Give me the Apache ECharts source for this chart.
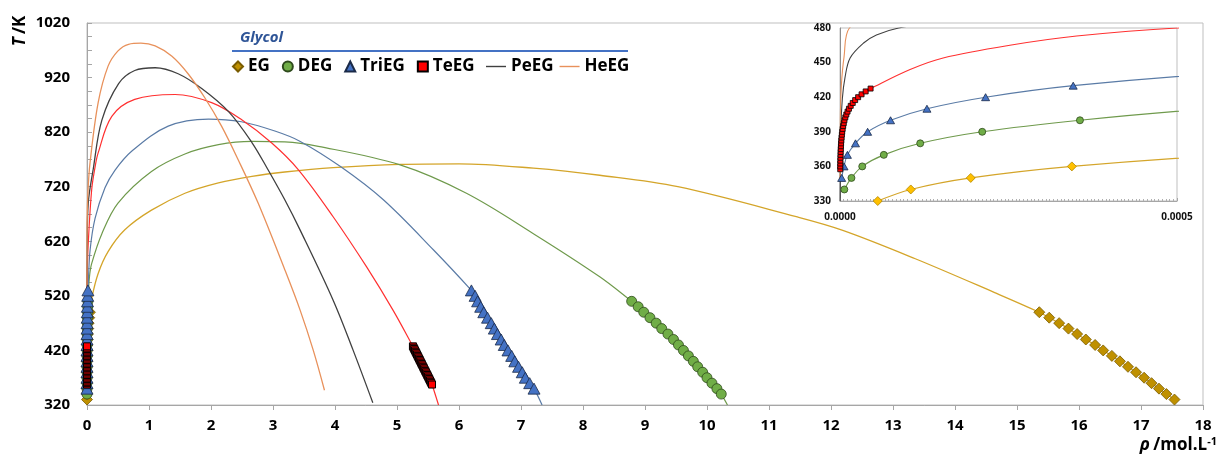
<!DOCTYPE html>
<html><head><meta charset="utf-8">
<script src="https://cdn.jsdelivr.net/npm/echarts@6/dist/echarts.min.js"></script>
<style>html,body{margin:0;padding:0;background:#fff}#c{width:1219px;height:454px}</style>
</head><body><div id="c"></div>
<script>
// ---------------- DATA ----------------
const seriesNames = ['EG','DEG','TriEG','TeEG','PeEG','HeEG'];
const xTicks = [0,1,2,3,4,5,6,7,8,9,10,11,12,13,14,15,16,17,18];
const yTicks = [320,420,520,620,720,820,920,1020];
const insetYTicks = [330,360,390,420,450,480];
const insetXTicks = [0,0.0005];

// simulation points [rho, T] — vapour side (ascending T) and liquid side (descending T)
const egVapor = [[0.000056,330],[0.000105,340],[0.000194,350],[0.000344,360],[0.00058,370],[0.00095,380],[0.0015,390],[0.0024,400],[0.0036,410],[0.0053,420],[0.0076,430],[0.0107,440],[0.0148,450],[0.020,460],[0.027,470],[0.036,480],[0.047,490]];
const egLiquid = [[15.36,490],[15.52,480],[15.68,470],[15.83,460],[15.97,450],[16.11,440],[16.26,430],[16.39,420],[16.53,410],[16.66,400],[16.79,390],[16.92,380],[17.05,370],[17.17,360],[17.29,350],[17.41,340],[17.54,330]];

const degVapor = [[0.0000064,340],[0.000017,350],[0.000033,360],[0.000065,370],[0.000119,380],[0.000211,390],[0.000356,400],[0.00055,410],[0.00083,420],[0.0012,430],[0.00175,440],[0.0025,450],[0.0035,460],[0.0048,470],[0.0065,480],[0.0087,490],[0.0115,500],[0.015,510]];
const degLiquid = [[8.785,510],[8.89,500],[8.98,490],[9.08,480],[9.18,470],[9.27,460],[9.37,450],[9.46,440],[9.54,430],[9.62,420],[9.70,410],[9.78,400],[9.85,390],[9.93,380],[10.00,370],[10.08,360],[10.16,350],[10.23,340]];

const triVapor = [[0.0000025,350],[0.000006,360],[0.000011,370],[0.000023,380],[0.000041,390],[0.000075,400],[0.000129,410],[0.000216,420],[0.000346,430],[0.00055,440],[0.00086,450],[0.0013,460],[0.00195,470],[0.00285,480],[0.0041,490],[0.0058,500],[0.008,510],[0.011,520],[0.015,530]];
const triLiquid = [[6.20,530],[6.26,520],[6.30,510],[6.35,500],[6.40,490],[6.46,480],[6.52,470],[6.57,460],[6.62,450],[6.68,440],[6.73,430],[6.79,420],[6.85,410],[6.90,400],[6.96,390],[7.02,380],[7.07,370],[7.14,360],[7.21,350]];

const teVapor = [[0.00000034,357.5],[0.0000004,360],[0.00000048,362.5],[0.00000057,365],[0.00000068,367.5],[0.00000081,370],[0.00000097,372.5],[0.00000115,375],[0.00000137,377.5],[0.00000163,380],[0.00000194,382.5],[0.00000232,385],[0.00000276,387.5],[0.00000329,390],[0.0000039,392.5],[0.0000047,395],[0.0000056,397.5],[0.0000066,400],[0.0000079,402.5],[0.0000094,405],[0.0000112,407.5],[0.0000133,410],[0.0000159,412.5],[0.0000189,415],[0.0000225,417.5],[0.0000269,420],[0.000032,422.5],[0.0000381,425],[0.0000454,427.5]];
const teLiquid = [[5.257,427.5],[5.268,425],[5.279,422.5],[5.290,420],[5.301,417.5],[5.312,415],[5.323,412.5],[5.334,410],[5.345,407.5],[5.356,405],[5.367,402.5],[5.378,400],[5.389,397.5],[5.400,395],[5.411,392.5],[5.422,390],[5.433,387.5],[5.444,385],[5.455,382.5],[5.466,380],[5.477,377.5],[5.488,375],[5.499,372.5],[5.510,370],[5.521,367.5],[5.532,365],[5.543,362.5],[5.554,360],[5.565,357.5]];

// fitted coexistence curves (between vapour and liquid points)
const egBranch = [[0.075,515],[0.18,561],[0.34,601],[0.61,641],[1.04,677],[1.58,708],[2.12,727],[2.66,739],[3.19,747],[3.97,755],[5.05,761],[6.0,762],[7.2,754],[8.27,741],[9.53,720],[11.44,665],[12.19,640],[13.36,588],[14.64,526]];
const degBranch = [[0.04,555],[0.075,579],[0.24,634],[0.50,690],[1.04,748],[1.58,780],[2.12,797],[2.66,803],[3.19,802],[3.73,794],[5.05,760],[6.12,708],[7.2,634],[8.27,555]];
const degEnd = [[10.33,320]];
const triBranch = [[0.02,542],[0.05,604],[0.13,662],[0.29,718],[0.45,750],[0.72,785],[1.31,831],[1.96,844],[2.49,839],[3.03,822],[3.44,803],[4.1,756],[4.78,696],[5.59,604]];
const triEnd = [[7.34,320]];
const teBranch = [[0.000104,444],[0.000153,454],[0.000252,465],[0.000351,473],[0.0005,480],[0.002,525],[0.006,570],[0.02,616],[0.075,714],[0.13,756],[0.18,782],[0.40,849],[0.77,880],[1.42,889],[2.01,874],[2.49,843],[2.98,800],[3.41,751],[3.97,665],[4.51,573],[4.94,493]];
const teEnd = [[5.67,320]];
const peCurve = [[0.0000002,330],[0.0000012,390],[0.0000035,419],[0.0000074,437],[0.000015,454],[0.000035,467],[0.000054,474],[0.000087,480],[0.0006,540],[0.004,620],[0.02,690],[0.10,752],[0.24,842],[0.51,909],[0.77,933],[1.10,938],[1.47,927],[1.85,900],[2.28,858],[2.66,801],[2.92,751],[3.19,696],[3.44,640],[3.97,512],[4.29,421],[4.61,324]];
const heCurve = [[0.0000002,350],[0.0000005,400],[0.000002,430],[0.000006,455],[0.000014,480],[0.0002,560],[0.002,650],[0.015,710],[0.05,765],[0.18,874],[0.34,941],[0.50,969],[0.67,981],[0.87,983],[1.10,978],[1.37,959],[1.63,927],[1.90,883],[2.17,831],[2.44,769],[2.76,690],[3.19,568],[3.44,493],[3.65,420],[3.83,347]];

// ---------------- BUILD ----------------
const FONT = '"Open Sans", "Noto Sans", sans-serif';
const egCurve = egVapor.concat(egBranch, egLiquid);
const degCurve = degVapor.concat(degBranch, degLiquid, degEnd);
const triCurve = triVapor.concat(triBranch, triLiquid, triEnd);
const teCurve = teVapor.concat(teBranch, teLiquid, teEnd);
const nearZero = arr => arr.filter(p => p[0] < 0.003);

const C = {
  egLine:'#D4A52A', degLine:'#6F9A4C', triLine:'#5A7BA6', teLine:'#FF3030', pe:'#404040', he:'#E8915B',
  eg:'#BF9000', egB:'#7A5C00', egIn:'#FFC000', egInB:'#B38600',
  deg:'#70AD47', degB:'#2E4A1C', tri:'#4472C4', triB:'#1A2A48', te:'#FF0000', teB:'#000000'
};

function curve(name, data, color, w, ai) {
  return {type:'line', name, data, xAxisIndex:ai, yAxisIndex:ai, symbol:'none', showSymbol:false,
    smooth:0.35, clip:true, silent:true, z:2, lineStyle:{color, width:w}, itemStyle:{color},
    emphasis:{disabled:true}, animation:false};
}
function dots(name, data, symbol, size, fill, stroke, bw, ai) {
  return {type:'scatter', name, data, xAxisIndex:ai, yAxisIndex:ai, symbol, symbolSize:size, clip:true,
    silent:true, z:3, itemStyle:{color:fill, borderColor:stroke, borderWidth:bw, opacity:1},
    emphasis:{disabled:true}, animation:false};
}

const series = [
  curve('EG fit', egCurve, C.egLine, 1.3, 0),
  curve('DEG fit', degCurve, C.degLine, 1.2, 0),
  curve('TriEG fit', triCurve, C.triLine, 1.2, 0),
  curve('TeEG fit', teCurve, C.teLine, 1.2, 0),
  curve(seriesNames[4], peCurve, C.pe, 1.3, 0),
  curve(seriesNames[5], heCurve, C.he, 1.3, 0),
  dots(seriesNames[0], egVapor.concat(egLiquid), 'diamond', 11, C.eg, C.egB, 0.8, 0),
  dots(seriesNames[1], degVapor.concat(degLiquid), 'circle', 10, C.deg, C.degB, 0.8, 0),
  dots(seriesNames[2], triVapor.concat(triLiquid), 'triangle', [12,11], C.tri, C.triB, 0.8, 0),
  dots(seriesNames[3], teVapor.concat(teLiquid), 'rect', 7, C.te, C.teB, 1, 0),
  // inset
  curve('EG inset', nearZero(egCurve), C.egLine, 1.2, 1),
  curve('DEG inset', nearZero(degCurve), C.degLine, 1.1, 1),
  curve('TriEG inset', nearZero(triCurve), C.triLine, 1.1, 1),
  curve('TeEG inset', nearZero(teCurve), C.teLine, 1.1, 1),
  curve('PeEG inset', nearZero(peCurve), C.pe, 1.1, 1),
  curve('HeEG inset', nearZero(heCurve), C.he, 1.1, 1),
  dots('EG in', egVapor, 'diamond', 9, C.egIn, C.egInB, 0.8, 1),
  dots('DEG in', degVapor, 'circle', 7, C.deg, C.degB, 0.8, 1),
  dots('TriEG in', triVapor, 'triangle', [8,7], C.tri, C.triB, 0.8, 1),
  dots('TeEG in', teVapor, 'rect', 5, C.te, C.teB, 0.8, 1)
];

const labelMain = {color:'#000', fontFamily:FONT, fontWeight:'bold', fontSize:15};
const labelInset = {color:'#111', fontFamily:FONT, fontWeight:'bold', fontSize:10};
const legendText = {color:'#000', fontFamily:FONT, fontWeight:'bold', fontSize:17};
const lineIcon = 'path://M0,0 L20,0 L20,1.4 L0,1.4 Z';

const option = {
  animation:false,
  backgroundColor:'#fff',
  title:{text:'Glycol', left:240, top:30, padding:0,
    textStyle:{fontFamily:FONT, fontStyle:'italic', fontWeight:'bold', fontSize:15, color:'#2F5597'}},
  legend:[
    {data:seriesNames.slice(0,4), left:232, top:58, padding:0, itemWidth:10, itemHeight:10, itemGap:12, textStyle:legendText, selectedMode:false},
    {data:seriesNames.slice(4).map(n => ({name:n, icon:lineIcon})), left:486, top:58, padding:0, itemWidth:20, itemHeight:10, itemGap:6, textStyle:legendText, selectedMode:false}
  ],
  grid:[
    {left:87, top:23, width:1116, height:382, show:true, borderColor:'#bfbfbf', borderWidth:1, backgroundColor:'transparent', containLabel:false, outerBoundsMode:'none'},
    {left:840, top:28, width:337, height:173, show:true, borderColor:'#bfbfbf', borderWidth:1, backgroundColor:'transparent', containLabel:false, outerBoundsMode:'none'}
  ],
  xAxis:[
    {gridIndex:0, type:'value', min:xTicks[0], max:xTicks[xTicks.length-1], interval:1,
      axisLine:{show:true, onZero:false, lineStyle:{color:'#a6a6a6'}},
      axisTick:{show:true, inside:false, length:5, lineStyle:{color:'#a6a6a6'}},
      splitLine:{show:false}, axisLabel:Object.assign({margin:13, formatter:v => String(v)}, labelMain)},
    {gridIndex:1, type:'value', min:insetXTicks[0], max:insetXTicks[1], interval:0.0005,
      axisLine:{show:true, onZero:false, lineStyle:{color:'#a6a6a6'}},
      axisTick:{show:true, inside:true, length:3, lineStyle:{color:'#a6a6a6'}},
      minorTick:{show:true, splitNumber:90, length:2, lineStyle:{color:'#b0b0b0'}},
      splitLine:{show:false},
      axisLabel:Object.assign({margin:11, formatter:v => v.toFixed(4)}, labelInset)}
  ],
  yAxis:[
    {gridIndex:0, type:'value', min:yTicks[0], max:yTicks[yTicks.length-1], interval:100,
      axisLine:{show:true, onZero:false, lineStyle:{color:'#a6a6a6'}},
      axisTick:{show:true, inside:true, length:5, lineStyle:{color:'#a6a6a6'}},
      minorTick:{show:true, splitNumber:4, length:5, lineStyle:{color:'#a6a6a6'}},
      splitLine:{show:false}, axisLabel:Object.assign({margin:17, formatter:v => String(v)}, labelMain)},
    {gridIndex:1, type:'value', min:insetYTicks[0], max:insetYTicks[insetYTicks.length-1], interval:30,
      axisLine:{show:true, onZero:false, lineStyle:{color:'#8c8c8c'}},
      axisTick:{show:false}, splitLine:{show:false},
      axisLabel:Object.assign({margin:9, formatter:v => String(v)}, labelInset)}
  ],
  graphic:[
    {type:'text', x:20, y:31, rotation:Math.PI/2, silent:true,
      style:{text:'{i|T} {n|/K}', align:'center', verticalAlign:'middle', fill:'#000',
        rich:{i:{fontFamily:FONT, fontStyle:'italic', fontWeight:'bold', fontSize:17, fill:'#000'},
              n:{fontFamily:FONT, fontWeight:'bold', fontSize:17, fill:'#000'}}}},
    {type:'text', x:1217, y:445, silent:true,
      style:{text:'{i|ρ} {n|/mol.L}{s|-1}', align:'right', verticalAlign:'middle', fill:'#000',
        rich:{i:{fontFamily:FONT, fontStyle:'italic', fontWeight:'bold', fontSize:17, fill:'#000'},
              n:{fontFamily:FONT, fontWeight:'bold', fontSize:17, fill:'#000'},
              s:{fontFamily:FONT, fontWeight:'bold', fontSize:11, fill:'#000', verticalAlign:'top'}}}},
    {type:'line', silent:true, shape:{x1:232, y1:51, x2:628, y2:51}, style:{stroke:'#4472C4', lineWidth:2}}
  ],
  series
};

const chart = echarts.init(document.getElementById('c'), null, {renderer:'canvas'});
chart.setOption(option);
</script>
</body></html>
